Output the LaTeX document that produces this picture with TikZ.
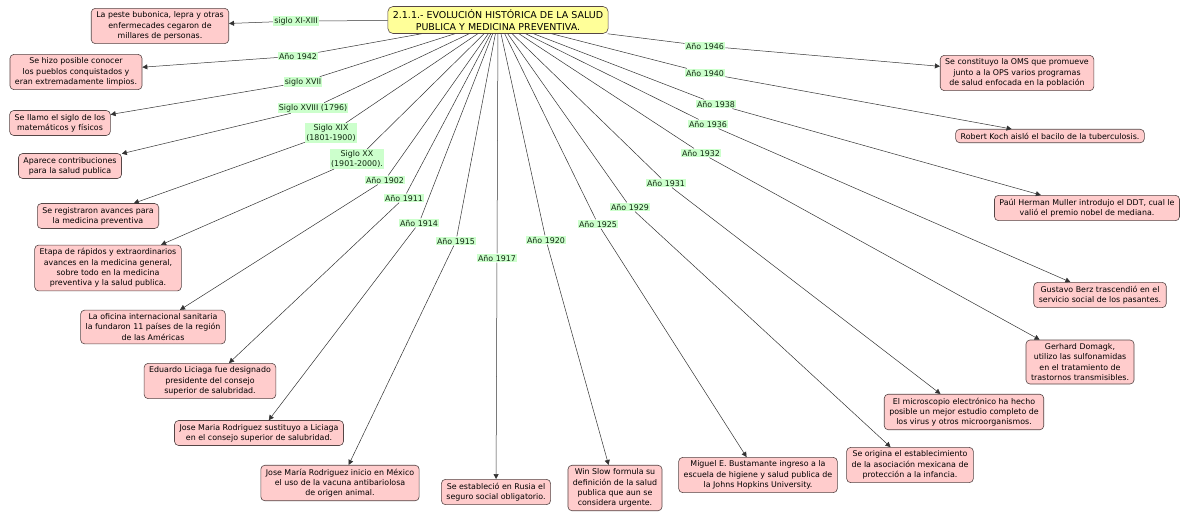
\documentclass[tikz,border=0pt]{standalone}
\usepackage{fontspec}
\setmainfont{DejaVu Sans}
\usetikzlibrary{arrows.meta}
\definecolor{boxpink}{RGB}{255,204,204}
\definecolor{boxline}{RGB}{85,70,70}
\definecolor{labgreen}{RGB}{204,255,204}
\definecolor{titley}{RGB}{255,255,153}
\definecolor{labtext}{RGB}{15,40,15}
\begin{document}
\begin{tikzpicture}[x=1pt,y=-1pt,
  concept/.style={draw=boxline, fill=boxpink, rounded corners=4pt, align=center,
    font=\fontsize{7.9}{10.3}\selectfont, inner xsep=5pt, inner ysep=3.5pt, line width=0.6pt},
  titlebox/.style={draw=boxline, fill=titley, rounded corners=5pt, align=center,
    font=\fontsize{9.5}{12}\selectfont, inner xsep=5pt, inner ysep=3pt, line width=0.6pt},
  lab/.style={fill=labgreen, text=labtext, font=\fontsize{7.9}{10}\selectfont, inner sep=1.3pt, align=center},
  conn/.style={draw=black!80, line width=0.5pt},
  arr/.style={conn, -{Triangle[length=5pt,width=5pt]}}]
\useasboundingbox (0,0) rectangle (1183,523);
\fill[white] (0,0) rectangle (1183,523);

\node[titlebox] (t) at (498,20) {2.1.1.- EVOLUCIÓN HISTÓRICA DE LA SALUD\\PUBLICA Y MEDICINA PREVENTIVA.};

% concepts
\node[concept] (n1) at (160,26) {La peste bubonica, lepra y otras\\enfermecades cegaron de\\millares de personas.};
\node[concept] (n2) at (76,72) {Se hizo posible conocer\\los pueblos conquistados y\\eran extremadamente limpios.};
\node[concept] (n3) at (60,123) {Se llamo el siglo de los\\matemáticos y físicos};
\node[concept] (n4) at (70,166) {Aparece contribuciones\\para la salud publica};
\node[concept] (n5) at (98,216) {Se registraron avances para\\la medicina preventiva};
\node[concept] (n6) at (108,268) {Etapa de rápidos y extraordinarios\\avances en la medicina general,\\sobre todo en la medicina\\preventiva y la salud publica.};
\node[concept] (n7) at (153,327) {La oficina internacional sanitaria\\la fundaron 11 países de la región\\de las Américas};
\node[concept] (n8) at (210,381) {Eduardo Liciaga fue designado\\presidente del consejo\\superior de salubridad.};
\node[concept] (n9) at (259,433) {Jose Maria Rodriguez sustituyo a Liciaga\\en el consejo superior de salubridad.};
\node[concept] (n10) at (340,483) {Jose María Rodriguez inicio en México\\el uso de la vacuna antibariolosa\\de origen animal.};
\node[concept] (n11) at (496,492) {Se estableció en Rusia el\\seguro social obligatorio.};
\node[concept] (n12) at (615,488) {Win Slow formula su\\definición de la salud\\publica que aun se\\considera urgente.};
\node[concept] (n13) at (758,475) {Miguel E. Bustamante ingreso a la\\escuela de higiene y salud publica de\\la Johns Hopkins University.};
\node[concept] (n14) at (910,465) {Se origina el establecimiento\\de la asociación mexicana de\\protección a la infancia.};
\node[concept] (n15) at (964,412) {El microscopio electrónico ha hecho\\posible un mejor estudio completo de\\los virus y otros microorganismos.};
\node[concept] (n16) at (1080,362) {Gerhard Domagk,\\utilizo las sulfonamidas\\en el tratamiento de\\trastornos transmisibles.};
\node[concept] (n17) at (1100,295) {Gustavo Berz trascendió en el\\servicio social de los pasantes.};
\node[concept] (n18) at (1087,208) {Paúl Herman Muller introdujo el DDT, cual le\\valió el premio nobel de mediana.};
\node[concept] (n19) at (1050,136) {Robert Koch aisló el bacilo de la tuberculosis.};
\node[concept] (n20) at (1017,73) {Se constituyo la OMS que promueve\\junto a la OPS varios programas\\de salud enfocada en la población};

% linking phrases
\node[lab] (l1) at (296,21) {siglo XI-XIII};
\node[lab] (l2) at (298,56) {Año 1942};
\node[lab] (l3) at (303,82) {siglo XVII};
\node[lab] (l4) at (313,108) {Siglo XVIII (1796)};
\node[lab] (l5) at (331,133) {Siglo XIX\\(1801-1900)};
\node[lab] (l6) at (357,159) {Siglo XX\\(1901-2000).};
\node[lab] (l7) at (385,180) {Año 1902};
\node[lab] (l8) at (404,198) {Año 1911};
\node[lab] (l9) at (419,223) {Año 1914};
\node[lab] (l10) at (456,241) {Año 1915};
\node[lab] (l11) at (497,258) {Año 1917};
\node[lab] (l12) at (546,240) {Año 1920};
\node[lab] (l13) at (598,224) {Año 1925};
\node[lab] (l14) at (630,207) {Año 1929};
\node[lab] (l15) at (666,183) {Año 1931};
\node[lab] (l16) at (701,153) {Año 1932};
\node[lab] (l17) at (708,124) {Año 1936};
\node[lab] (l18) at (716,104) {Año 1938};
\node[lab] (l19) at (705,73) {Año 1940};
\node[lab] (l20) at (705,46) {Año 1946};

% connectors
\foreach \i in {1,...,20} {
  \draw[conn] (t) -- (l\i);
  \draw[arr] (l\i) -- (n\i);
}
\end{tikzpicture}
\end{document}
